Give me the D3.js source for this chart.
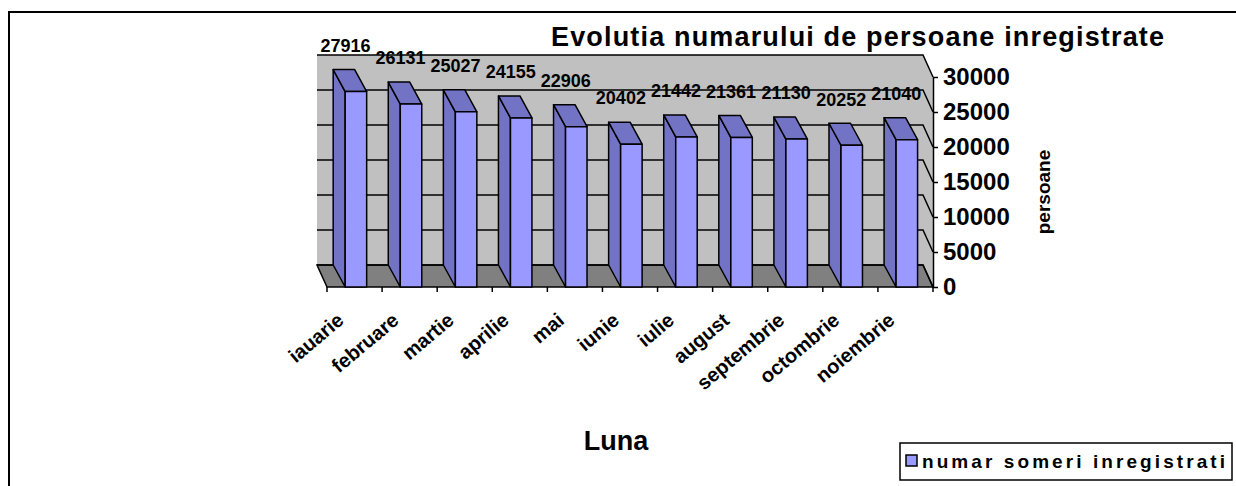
<!DOCTYPE html>
<html>
<head>
<meta charset="utf-8">
<script src="https://cdn.jsdelivr.net/npm/d3@7"></script>
<style>
  body { margin: 0; background: #fff; }
  text { font-family: "Liberation Sans", Arial, sans-serif; font-weight: bold; fill: #000; }
</style>
</head>
<body>
<svg id="chart" width="1236" height="486"></svg>
<script>
const months = ["iauarie", "februare", "martie", "aprilie", "mai", "iunie", "iulie", "august", "septembrie", "octombrie", "noiembrie"];
const someri = [27916, 26131, 25027, 24155, 22906, 20402, 21442, 21361, 21130, 20252, 21040];
const yTicks = [0, 5000, 10000, 15000, 20000, 25000, 30000];
const chartTitle = "Evolutia numarului de persoane inregistrate";
const xTitle = "Luna";
const yTitle = "persoane";
const seriesName = "numar someri inregistrati";

const data = months.map((m, i) => ({ month: m, value: someri[i] }));

const svg = d3.select("#chart");
const x = d3.scaleBand().domain(months).range([327, 933]);
const y = d3.scaleLinear().domain([0, 30000]).range([287, 77]);
const [xl, xr] = x.range();
const bw = x.bandwidth();
const wall = { dx: 10, dy: 22 };
const depth = { dx: 12, dy: 22 };
const line = d3.line();

// outer frame
svg.append("rect")
  .attr("x", 9).attr("y", 12).attr("width", 1240).attr("height", 500)
  .attr("fill", "#fff").attr("stroke", "#000").attr("stroke-width", 2);

const yTop = y(30000), y0 = y(0);

// back wall + right side wall
svg.append("path")
  .attr("d", line([[xl - wall.dx, yTop - wall.dy], [xr - wall.dx, yTop - wall.dy], [xr - wall.dx, y0 - wall.dy], [xl - wall.dx, y0 - wall.dy]]) + "Z")
  .attr("fill", "#c0c0c0");
svg.append("path")
  .attr("d", line([[xr - wall.dx, yTop - wall.dy], [xr, yTop], [xr, y0], [xr - wall.dx, y0 - wall.dy]]) + "Z")
  .attr("fill", "#c0c0c0");

// floor
svg.append("path")
  .attr("d", line([[xl - wall.dx, y0 - wall.dy], [xr - wall.dx, y0 - wall.dy], [xr, y0], [xl, y0]]) + "Z")
  .attr("fill", "#808080").attr("stroke", "#000").attr("stroke-width", 1.5);

// gridlines on walls
svg.append("g")
  .selectAll("path")
  .data(yTicks)
  .join("path")
  .attr("d", t => line([[xl - wall.dx, y(t) - wall.dy], [xr - wall.dx, y(t) - wall.dy], [xr, y(t)]]))
  .attr("fill", "none").attr("stroke", "#000").attr("stroke-width", 1.5);

// value axis (right)
const yAxis = svg.append("g")
  .attr("transform", `translate(${xr},0)`)
  .call(d3.axisRight(y).tickValues(yTicks).tickSize(5).tickSizeOuter(0).tickPadding(5).tickFormat(d3.format("d")));
yAxis.select(".domain").attr("stroke", "#000").attr("stroke-width", 1.5);
yAxis.selectAll(".tick line").attr("stroke", "#000").attr("stroke-width", 1.5);
yAxis.selectAll(".tick text").attr("font-size", 24).attr("font-family", null).attr("fill", "#000");

// category axis ticks at band edges
svg.append("g")
  .selectAll("line")
  .data(months.map(m => x(m)).concat([xr]))
  .join("line")
  .attr("x1", d => d).attr("x2", d => d)
  .attr("y1", y0).attr("y2", y0 + 5)
  .attr("stroke", "#000").attr("stroke-width", 1.5);

// bars
const fx = d => x(d.month) + bw * 0.33;
const fw = bw * 0.39;
const bars = svg.append("g")
  .selectAll("g")
  .data(data)
  .join("g")
  .attr("stroke", "#000").attr("stroke-width", 1.5).attr("stroke-linejoin", "round");

bars.append("path")
  .attr("d", d => line([[fx(d), y(d.value)], [fx(d), y0], [fx(d) - depth.dx, y0 - depth.dy], [fx(d) - depth.dx, y(d.value) - depth.dy]]) + "Z")
  .attr("fill", "#7373c6");
bars.append("path")
  .attr("d", d => line([[fx(d), y(d.value)], [fx(d) + fw, y(d.value)], [fx(d) + fw - depth.dx, y(d.value) - depth.dy], [fx(d) - depth.dx, y(d.value) - depth.dy]]) + "Z")
  .attr("fill", "#7373c6");
bars.append("rect")
  .attr("x", fx)
  .attr("y", d => y(d.value))
  .attr("width", fw)
  .attr("height", d => y0 - y(d.value))
  .attr("fill", "#9999ff");

// value labels
svg.append("g")
  .selectAll("text")
  .data(data)
  .join("text")
  .attr("x", d => fx(d) - depth.dx + fw / 2 + 1.5)
  .attr("y", d => y(d.value) - depth.dy - 24)
  .attr("dy", "0.35em")
  .attr("text-anchor", "middle")
  .attr("font-size", 18)
  .text(d => d.value);

// category labels
svg.append("g")
  .selectAll("text")
  .data(months)
  .join("text")
  .attr("transform", m => `translate(${x(m) + bw / 2 - 14},${y0 + 30}) rotate(-40)`)
  .attr("text-anchor", "end")
  .attr("dy", "0.35em")
  .attr("font-size", 20)
  .text(m => m);

// titles
svg.append("text")
  .attr("x", 551).attr("y", 46)
  .attr("font-size", 27)
  .attr("textLength", 613).attr("lengthAdjust", "spacing")
  .text(chartTitle);
svg.append("text")
  .attr("x", 616).attr("y", 450)
  .attr("text-anchor", "middle")
  .attr("font-size", 27)
  .text(xTitle);
svg.append("text")
  .attr("transform", "translate(1043,192) rotate(-90)")
  .attr("text-anchor", "middle")
  .attr("dy", "0.35em")
  .attr("font-size", 19)
  .text(yTitle);

// legend
const legend = svg.append("g");
legend.append("rect")
  .attr("x", 900).attr("y", 443).attr("width", 332).attr("height", 37)
  .attr("fill", "#fff").attr("stroke", "#000").attr("stroke-width", 1.5);
legend.append("rect")
  .attr("x", 906).attr("y", 455).attr("width", 11).attr("height", 11)
  .attr("fill", "#9999ff").attr("stroke", "#000").attr("stroke-width", 1.5);
legend.append("text")
  .attr("x", 922).attr("y", 468)
  .attr("font-size", 19)
  .attr("textLength", 303).attr("lengthAdjust", "spacing")
  .text(seriesName);
</script>
</body>
</html>
